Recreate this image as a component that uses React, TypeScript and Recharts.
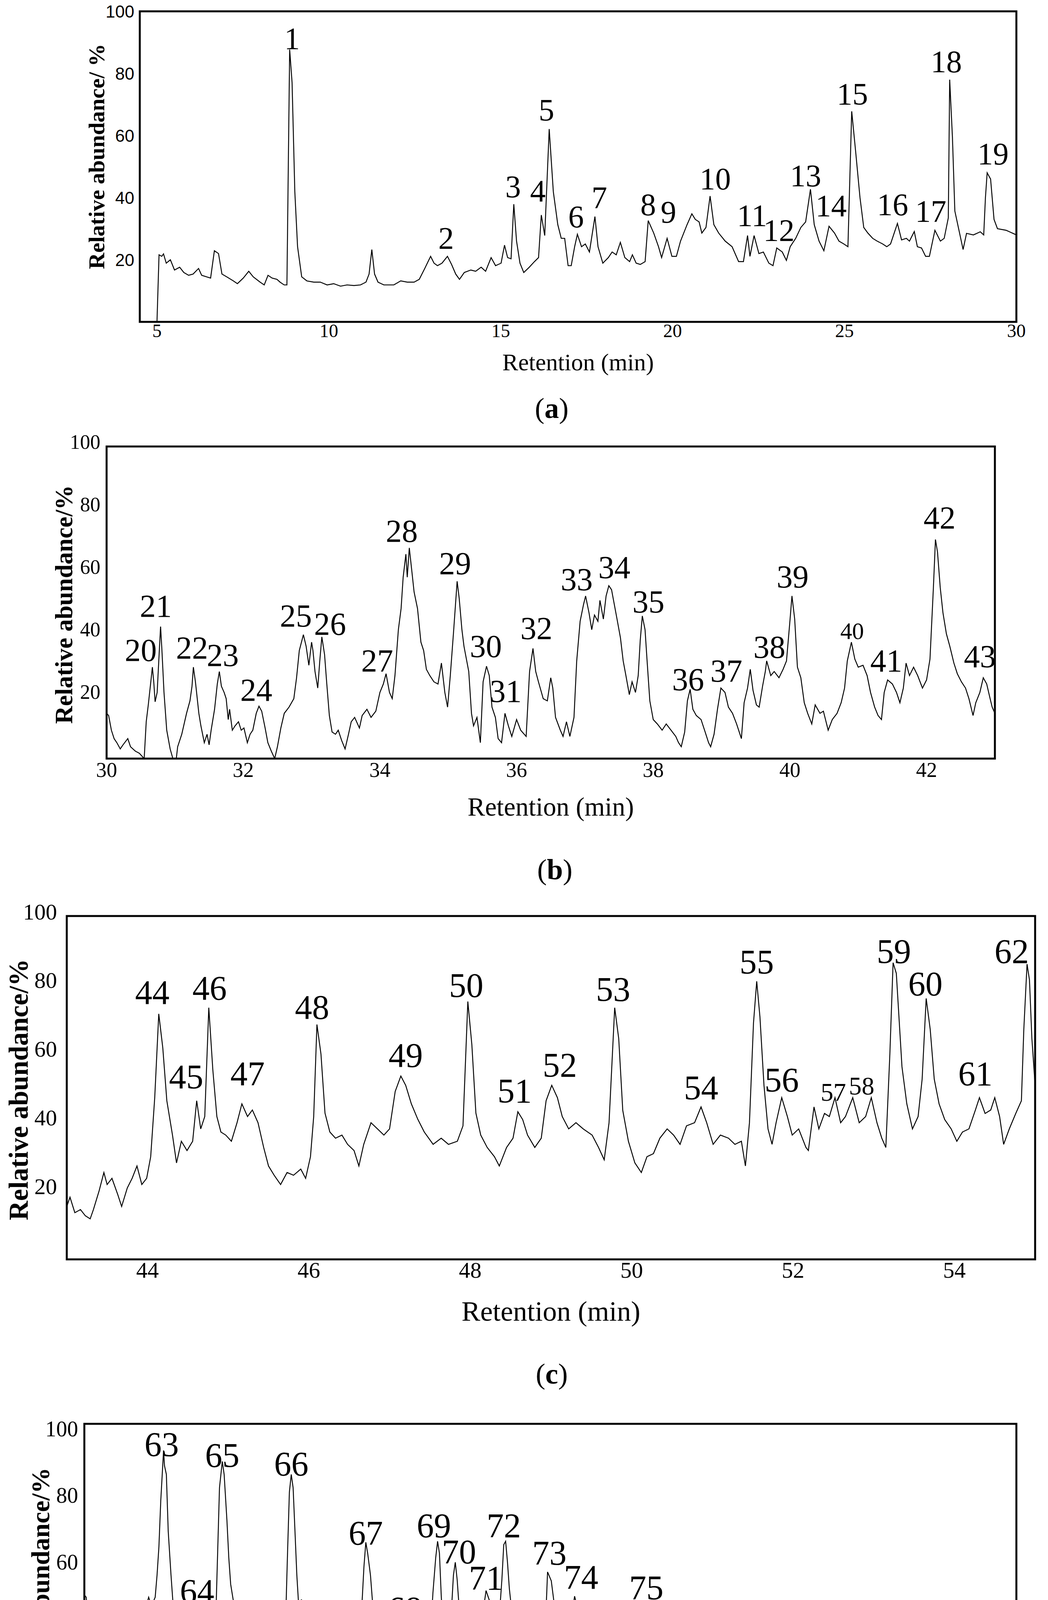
import React from 'react';
import { ComposedChart, Line, Scatter, XAxis, YAxis, ReferenceArea, Label } from 'recharts';

const SERIF = '"Liberation Serif", "Times New Roman", serif';
const SANS = '"Liberation Sans", Arial, sans-serif';

type Pt = [number, number];
type Peak = [string, number, number];

// retention time (min), relative abundance (%)
const traceA: Pt[] = [
  [5.0,0],[5.06,21.6],[5.14,21.1],[5.19,21.9],[5.27,18.9],[5.39,20.0],[5.51,16.7],[5.66,17.6],[5.78,15.9],[5.92,15.0],[6.05,15.4],[6.21,17.2],[6.3,15.0],[6.44,14.5],[6.56,14.1],[6.67,22.9],[6.79,22.0],[6.89,15.4],[7.03,14.5],[7.22,13.2],[7.34,12.3],[7.51,14.1],[7.67,16.3],[7.8,14.5],[8.0,12.8],[8.12,11.9],[8.23,15.0],[8.35,14.1],[8.49,13.7],[8.58,12.8],[8.7,11.9],[8.78,11.9],[8.86,87.7],[8.93,77.1],[9.01,41.9],[9.09,24.2],[9.21,14.5],[9.36,13.2],[9.56,12.8],[9.75,12.8],[9.95,11.9],[10.14,12.3],[10.34,11.5],[10.53,11.9],[10.73,11.7],[10.92,11.9],[11.08,12.8],[11.17,15.4],[11.25,23.3],[11.33,15.4],[11.43,12.8],[11.6,11.9],[11.89,11.9],[12.09,13.2],[12.28,12.8],[12.48,12.8],[12.63,13.7],[12.79,17.2],[12.96,21.1],[13.06,18.9],[13.16,18.1],[13.29,18.9],[13.45,21.1],[13.57,18.5],[13.69,15.4],[13.8,13.7],[13.94,15.9],[14.13,16.7],[14.27,16.3],[14.43,17.6],[14.56,16.3],[14.72,20.7],[14.85,18.1],[15.01,18.9],[15.11,24.7],[15.2,20.7],[15.3,20.3],[15.38,37.9],[15.46,26.0],[15.56,18.9],[15.67,15.9],[15.83,17.6],[15.98,19.4],[16.1,20.7],[16.18,34.4],[16.28,27.8],[16.41,62.1],[16.53,41.9],[16.66,31.3],[16.76,26.9],[16.86,26.9],[16.96,18.1],[17.05,18.1],[17.15,24.2],[17.23,28.2],[17.35,24.2],[17.46,25.1],[17.58,22.5],[17.74,33.9],[17.83,24.2],[17.97,18.9],[18.13,20.7],[18.24,22.5],[18.36,21.6],[18.48,25.6],[18.61,20.7],[18.75,19.4],[18.83,21.6],[18.94,18.9],[19.06,18.5],[19.2,19.4],[19.29,32.6],[19.45,28.6],[19.59,24.2],[19.68,20.7],[19.84,26.9],[19.98,21.1],[20.11,21.1],[20.23,26.0],[20.42,31.3],[20.56,34.8],[20.66,33.0],[20.77,32.2],[20.85,28.6],[20.97,30.4],[21.09,40.5],[21.2,31.3],[21.34,28.6],[21.53,26.0],[21.73,24.2],[21.92,19.4],[22.06,19.4],[22.18,27.8],[22.25,21.1],[22.37,27.8],[22.51,22.0],[22.64,22.5],[22.8,18.9],[22.92,18.1],[23.03,23.8],[23.19,22.5],[23.31,19.8],[23.42,24.2],[23.58,26.9],[23.73,30.4],[23.87,32.2],[24.01,42.7],[24.12,31.3],[24.26,26.0],[24.4,22.9],[24.55,30.8],[24.71,28.6],[24.84,26.0],[24.98,25.1],[25.1,24.2],[25.21,67.8],[25.33,54.2],[25.45,40.1],[25.56,30.4],[25.68,28.6],[25.82,26.9],[25.95,26.0],[26.11,25.1],[26.23,24.2],[26.34,25.1],[26.54,31.7],[26.66,26.4],[26.8,26.9],[26.89,26.0],[27.03,29.1],[27.12,24.2],[27.24,23.8],[27.36,21.1],[27.47,21.1],[27.63,29.5],[27.79,26.0],[27.9,26.9],[28.02,33.5],[28.06,78.0],[28.14,59.5],[28.21,35.7],[28.33,29.5],[28.45,23.3],[28.55,28.5],[28.75,28.0],[28.95,29.0],[29.05,28.0],[29.1,40.0],[29.15,48.0],[29.25,46.0],[29.35,33.0],[29.45,30.0],[29.7,29.5],[30.0,28.0],
];

const traceB: Pt[] = [
  [30.0,14.5],[30.03,13.8],[30.07,9.1],[30.11,6.4],[30.15,5.1],[30.2,3.1],[30.24,4.4],[30.31,6.4],[30.35,3.8],[30.42,2.4],[30.48,1.7],[30.55,0],[30.58,11.8],[30.61,17.2],[30.65,25.2],[30.67,29.3],[30.69,24.6],[30.71,18.2],[30.74,21.2],[30.77,34.0],[30.79,42.3],[30.81,34.6],[30.84,21.2],[30.88,9.1],[30.93,3.1],[30.97,0],[31.02,0],[31.04,3.8],[31.1,7.8],[31.17,14.5],[31.22,18.5],[31.25,23.2],[31.27,29.3],[31.3,24.6],[31.35,14.5],[31.38,10.5],[31.43,5.1],[31.47,7.8],[31.5,4.4],[31.53,9.1],[31.58,15.8],[31.62,23.9],[31.65,27.9],[31.68,23.2],[31.72,21.2],[31.75,19.2],[31.78,12.5],[31.8,15.8],[31.84,9.1],[31.88,10.5],[31.93,11.8],[31.97,9.1],[32.01,9.8],[32.06,5.1],[32.1,7.8],[32.14,9.1],[32.19,14.5],[32.23,16.8],[32.27,15.2],[32.32,9.8],[32.36,5.1],[32.41,2.4],[32.46,0],[32.5,3.8],[32.55,9.8],[32.6,14.5],[32.67,16.5],[32.74,19.2],[32.78,25.9],[32.82,34.6],[32.88,39.7],[32.92,36.0],[32.96,29.9],[33.0,37.3],[33.02,34.6],[33.05,27.9],[33.09,22.6],[33.12,31.3],[33.15,39.0],[33.19,33.3],[33.22,24.6],[33.26,13.8],[33.3,8.5],[33.35,7.8],[33.39,9.1],[33.44,5.8],[33.49,3.1],[33.54,7.8],[33.58,11.8],[33.63,13.2],[33.7,9.8],[33.74,13.8],[33.81,15.8],[33.87,13.2],[33.94,15.2],[34.0,21.2],[34.05,23.9],[34.09,27.2],[34.14,21.2],[34.18,19.2],[34.22,26.6],[34.27,41.3],[34.31,48.1],[34.34,58.1],[34.38,65.5],[34.4,58.1],[34.43,67.5],[34.46,61.5],[34.5,53.4],[34.55,48.1],[34.6,37.3],[34.64,34.6],[34.68,28.6],[34.73,26.6],[34.79,24.6],[34.85,23.9],[34.9,30.6],[34.95,21.2],[34.99,16.5],[35.03,26.6],[35.08,41.3],[35.13,56.8],[35.16,51.4],[35.2,41.3],[35.23,36.0],[35.3,27.9],[35.34,14.5],[35.37,10.5],[35.42,13.2],[35.47,5.1],[35.51,24.6],[35.56,29.6],[35.6,26.6],[35.64,16.5],[35.69,13.2],[35.73,6.4],[35.78,5.1],[35.83,14.5],[35.88,10.5],[35.93,7.1],[36.0,12.5],[36.06,9.1],[36.14,7.1],[36.19,27.9],[36.24,35.3],[36.28,27.9],[36.32,24.6],[36.39,19.2],[36.45,18.5],[36.5,25.9],[36.53,22.6],[36.57,13.2],[36.64,9.1],[36.68,7.1],[36.73,11.8],[36.78,7.1],[36.84,13.2],[36.88,31.3],[36.93,44.0],[36.98,49.4],[37.01,52.1],[37.06,46.7],[37.1,41.3],[37.14,46.0],[37.19,44.0],[37.22,50.7],[37.27,44.7],[37.31,52.1],[37.35,55.4],[37.39,54.1],[37.43,49.4],[37.47,44.7],[37.52,38.7],[37.56,31.3],[37.6,26.6],[37.65,20.5],[37.69,24.6],[37.74,21.2],[37.78,26.6],[37.81,38.0],[37.84,45.7],[37.88,41.3],[37.91,31.3],[37.95,18.5],[38.0,12.5],[38.06,11.1],[38.13,9.1],[38.19,11.1],[38.26,9.1],[38.33,7.1],[38.37,5.1],[38.41,3.8],[38.46,8.5],[38.5,18.5],[38.54,22.2],[38.58,15.8],[38.63,13.8],[38.7,12.5],[38.76,8.5],[38.81,5.1],[38.84,3.8],[38.89,7.8],[38.94,15.8],[38.99,22.6],[39.05,21.2],[39.1,16.5],[39.16,14.5],[39.22,11.1],[39.29,6.4],[39.33,17.9],[39.38,22.6],[39.42,28.6],[39.46,21.9],[39.51,17.2],[39.55,16.5],[39.6,23.2],[39.64,27.9],[39.66,31.3],[39.72,26.6],[39.77,27.9],[39.84,25.9],[39.9,28.6],[39.95,31.3],[40.0,44.0],[40.03,52.1],[40.07,44.7],[40.11,29.3],[40.16,25.9],[40.21,17.9],[40.26,14.5],[40.32,11.1],[40.37,17.2],[40.44,14.5],[40.49,15.2],[40.56,9.1],[40.62,12.5],[40.69,14.5],[40.75,17.9],[40.8,22.6],[40.84,31.3],[40.9,37.3],[40.95,31.9],[41.0,29.3],[41.07,29.9],[41.13,26.6],[41.18,21.2],[41.24,16.5],[41.29,13.8],[41.34,12.5],[41.38,21.2],[41.43,25.2],[41.5,23.9],[41.56,21.2],[41.61,17.9],[41.66,22.6],[41.7,30.6],[41.75,26.6],[41.81,29.3],[41.87,26.6],[41.94,22.6],[42.0,25.2],[42.05,31.9],[42.1,54.8],[42.13,70.2],[42.16,66.2],[42.2,54.8],[42.24,46.7],[42.29,40.0],[42.34,36.0],[42.4,30.6],[42.45,27.2],[42.51,24.6],[42.57,22.6],[42.62,19.2],[42.68,13.8],[42.72,17.9],[42.78,21.2],[42.83,25.9],[42.88,23.9],[42.93,19.2],[42.96,16.5],[43.0,14.5],
];

const traceC: Pt[] = [
  [43.0,15.4],[43.04,18.1],[43.1,13.6],[43.17,14.5],[43.23,12.7],[43.29,11.8],[43.33,14.5],[43.4,19.9],[43.46,25.3],[43.5,21.8],[43.56,23.6],[43.63,19.0],[43.68,15.4],[43.75,20.8],[43.81,23.6],[43.87,27.2],[43.93,21.8],[43.99,23.6],[44.04,29.9],[44.09,47.1],[44.14,71.5],[44.19,61.6],[44.24,46.2],[44.31,36.2],[44.36,28.1],[44.42,34.4],[44.49,31.7],[44.56,34.4],[44.61,46.2],[44.66,38.0],[44.71,41.6],[44.76,73.3],[44.81,55.2],[44.86,41.6],[44.91,37.1],[44.97,36.2],[45.04,34.4],[45.11,39.8],[45.17,45.3],[45.24,41.6],[45.3,43.5],[45.37,39.8],[45.44,32.6],[45.5,27.2],[45.57,24.5],[45.65,21.8],[45.73,25.3],[45.81,24.5],[45.9,26.3],[45.96,23.6],[46.02,29.9],[46.06,41.6],[46.1,68.4],[46.15,59.8],[46.2,42.6],[46.26,37.1],[46.33,35.3],[46.41,36.2],[46.48,33.5],[46.56,31.7],[46.62,27.2],[46.68,33.5],[46.77,39.8],[46.85,38.0],[46.93,36.2],[47.0,38.0],[47.07,48.9],[47.14,53.4],[47.2,50.7],[47.27,45.3],[47.35,40.8],[47.43,37.1],[47.54,33.5],[47.64,35.3],[47.73,33.5],[47.84,34.4],[47.91,38.9],[47.97,75.1],[48.02,62.5],[48.07,42.6],[48.13,36.2],[48.21,32.6],[48.3,29.9],[48.36,27.2],[48.45,32.6],[48.53,35.3],[48.59,43.0],[48.65,40.7],[48.71,36.2],[48.8,32.6],[48.88,35.3],[48.94,46.2],[49.01,50.7],[49.08,47.1],[49.14,41.6],[49.22,38.0],[49.31,39.8],[49.4,38.0],[49.51,36.2],[49.59,32.6],[49.66,29.0],[49.72,39.8],[49.79,73.3],[49.84,64.3],[49.89,43.4],[49.96,34.4],[50.04,28.1],[50.12,25.3],[50.19,29.9],[50.27,30.8],[50.35,35.3],[50.44,38.0],[50.52,36.2],[50.6,33.5],[50.68,38.9],[50.78,39.8],[50.86,44.4],[50.93,39.8],[51.01,33.5],[51.1,36.2],[51.2,35.3],[51.28,33.5],[51.36,34.4],[51.41,27.2],[51.46,39.8],[51.51,68.8],[51.55,81.0],[51.59,70.6],[51.64,50.7],[51.69,38.0],[51.74,33.5],[51.79,39.8],[51.86,47.1],[51.93,41.6],[51.99,36.2],[52.07,38.0],[52.16,32.6],[52.19,31.7],[52.26,44.4],[52.32,38.0],[52.39,42.5],[52.45,41.6],[52.52,47.1],[52.59,39.8],[52.65,41.6],[52.74,47.1],[52.82,39.8],[52.9,41.6],[52.97,47.1],[53.04,39.8],[53.1,35.3],[53.15,32.6],[53.2,59.8],[53.24,86.4],[53.28,83.3],[53.35,56.1],[53.41,45.3],[53.48,38.0],[53.55,41.6],[53.6,52.5],[53.65,76.0],[53.7,67.0],[53.75,52.5],[53.81,45.3],[53.88,40.7],[53.96,38.0],[54.03,34.4],[54.1,37.1],[54.18,38.0],[54.26,43.5],[54.31,47.1],[54.38,42.5],[54.45,43.5],[54.5,47.1],[54.56,41.6],[54.61,33.5],[54.68,38.0],[54.76,42.5],[54.83,46.2],[54.86,67.0],[54.9,86.0],[54.93,81.4],[54.96,64.3],[55.0,50.7],
];

const traceD: Pt[] = [
  [55.0,48.6],[55.02,47.9],[55.04,41.3],[55.06,43.9],[55.08,40.0],[55.1,37.4],[55.13,43.3],[55.16,38.7],[55.19,38.0],[55.23,37.4],[55.27,32.1],[55.3,36.0],[55.34,34.7],[55.38,35.4],[55.43,38.0],[55.48,37.4],[55.52,42.0],[55.56,37.4],[55.6,34.1],[55.61,43.3],[55.65,43.9],[55.69,47.9],[55.72,45.3],[55.76,47.9],[55.78,54.5],[55.8,63.0],[55.82,76.9],[55.85,92.0],[55.86,87.4],[55.88,84.8],[55.9,67.7],[55.93,54.5],[55.95,46.6],[55.98,41.3],[56.02,37.4],[56.06,34.7],[56.09,32.7],[56.11,41.3],[56.15,40.0],[56.19,36.0],[56.23,41.3],[56.26,43.9],[56.29,41.3],[56.33,38.0],[56.36,30.1],[56.38,32.7],[56.41,41.3],[56.43,61.1],[56.45,80.8],[56.48,88.7],[56.5,84.8],[56.53,70.9],[56.55,59.7],[56.57,51.8],[56.6,46.6],[56.63,43.3],[56.66,45.6],[56.7,41.3],[56.74,36.0],[56.78,33.4],[56.82,31.4],[56.86,34.7],[56.9,32.1],[56.95,32.7],[56.98,37.4],[57.02,34.7],[57.05,30.8],[57.09,28.1],[57.13,30.8],[57.16,41.3],[57.18,61.1],[57.2,79.5],[57.22,84.8],[57.24,80.8],[57.26,67.7],[57.28,54.5],[57.3,45.3],[57.33,47.2],[57.35,39.3],[57.38,40.0],[57.43,35.4],[57.48,30.8],[57.53,29.4],[57.57,28.1],[57.62,32.1],[57.67,29.4],[57.72,34.7],[57.77,35.4],[57.82,37.4],[57.86,36.0],[57.91,38.7],[57.94,33.4],[57.97,41.3],[58.0,57.1],[58.02,64.4],[58.04,61.1],[58.07,54.5],[58.1,43.5],[58.12,34.7],[58.15,32.1],[58.18,31.4],[58.22,36.0],[58.25,31.4],[58.28,32.1],[58.31,28.1],[58.34,26.2],[58.38,25.5],[58.41,24.2],[58.44,29.4],[58.47,32.7],[58.5,37.4],[58.53,38.0],[58.57,38.7],[58.6,36.0],[58.64,34.7],[58.68,31.4],[58.71,34.7],[58.74,49.2],[58.77,59.8],[58.79,64.7],[58.81,61.1],[58.83,47.9],[58.86,34.7],[58.89,29.4],[58.92,30.8],[58.94,44.6],[58.96,54.5],[58.98,58.4],[59.0,53.2],[59.03,41.3],[59.05,34.1],[59.08,30.8],[59.11,28.8],[59.16,30.1],[59.21,32.1],[59.25,38.7],[59.28,43.9],[59.31,49.9],[59.35,46.6],[59.38,44.6],[59.41,42.0],[59.43,38.0],[59.45,41.3],[59.48,53.2],[59.5,63.7],[59.52,64.7],[59.54,58.4],[59.56,50.5],[59.59,42.6],[59.62,38.0],[59.66,34.1],[59.69,32.1],[59.74,30.8],[59.79,31.4],[59.83,30.1],[59.88,30.8],[59.91,28.8],[59.95,41.3],[59.97,55.5],[60.01,52.8],[60.06,41.8],[60.1,33.6],[60.15,30.0],[60.2,36.4],[60.26,48.2],[60.3,43.7],[60.34,36.4],[60.4,32.7],[60.47,34.5],[60.54,30.9],[60.61,29.1],[60.67,25.4],[60.74,27.3],[60.82,28.2],[60.87,39.1],[60.94,41.8],[61.0,44.6],[61.05,40.9],[61.1,34.5],[61.15,26.3],[61.22,23.6],[61.3,24.5],[61.37,20.9],[61.44,20.0],[61.51,23.6],[61.58,19.1],[61.65,15.4],[61.73,14.5],[61.8,12.7],[61.87,14.5],[61.96,19.1],[62.05,16.3],[62.16,14.5],[62.26,13.6],[62.37,11.8],[62.48,9.0],[62.56,7.2],[62.66,12.7],[62.73,16.3],[62.78,14.5],[62.85,10.8],[62.94,8.1],[63.05,6.3],[63.16,4.0],[63.27,2.6],[63.37,7.2],[63.45,4.5],[63.52,0.4],[63.59,2.6],[63.66,5.4],[63.73,1.7],[63.8,0.4],[63.91,1.3],[64.0,4.0],[64.05,0],
];

// peak number, retention time, abundance at the label baseline
const peaksA: Peak[] = [
  ['1',8.93,87.8],['2',13.41,23.5],['3',15.36,40.1],['4',16.08,38.8],['5',16.33,64.8],['6',17.19,30.4],['7',17.87,36.6],['8',19.29,34.4],['9',19.88,32.0],['10',21.24,42.7],['11',22.31,30.8],['12',23.09,26.0],['13',23.87,43.6],['14',24.61,33.9],['15',25.23,70.0],['16',26.4,34.4],['17',27.51,32.2],['18',27.96,80.4],['19',29.32,50.7],
];
const peaksB: Peak[] = [
  ['20',30.5,31.3],['21',30.72,45.4],['22',31.25,32.0],['23',31.7,29.6],['24',32.19,18.5],['25',32.77,42.3],['26',33.27,39.7],['27',33.96,27.9],['28',34.32,69.5],['29',35.1,59.1],['30',35.55,32.6],['31',35.84,18.2],['32',36.29,38.3],['33',36.88,54.0],['34',37.43,57.8],['35',37.93,46.8],['36',38.51,21.9],['37',39.07,24.6],['38',39.7,32.3],['39',40.04,54.8],['40',40.91,38.3],['41',41.41,27.9],['42',42.19,73.7],['43',42.78,29.3],
];
const peaksC: Peak[] = [
  ['44',44.06,74.4],['45',44.48,49.8],['46',44.77,75.6],['47',45.24,50.7],['48',46.04,70.1],['49',47.2,56.1],['50',47.95,76.5],['51',48.55,45.7],['52',49.11,53.2],['53',49.77,75.3],['54',50.86,46.6],['55',51.55,83.3],['56',51.86,48.9],['57',52.5,46.2],['58',52.85,48.0],['59',53.25,86.4],['60',53.64,76.9],['61',54.26,50.7],['62',54.71,86.4],
];
const peaksD: Peak[] = [
  ['63',55.83,90.4],['64',56.21,46.2],['65',56.48,87.1],['66',57.22,84.5],['67',58.02,63.7],['68',58.44,41.0],['69',58.75,66.0],['70',59.02,58.1],['71',59.31,50.2],['72',59.5,66.0],['73',59.99,57.8],['74',60.33,50.5],['75',61.03,47.3],
];

const xTicksA = [5, 10, 15, 20, 25, 30];
const xTicksB = [30, 32, 34, 36, 38, 40, 42];
const xTicksC = [44, 46, 48, 50, 52, 54];
const xTicksD = [56, 58, 60, 62, 64];
const yTicks = [20, 40, 60, 80, 100];

const xTitle = 'Retention (min)';
const yTitleA = 'Relative abundance/ %';
const yTitle = 'Relative abundance/%';

// these labels are set in a smaller type in the figure
const smallPeaks = new Set(['40', '57', '58']);

const rows = (pts: Pt[]) => pts.map(([t, v]) => ({ t, v }));
const peakRows = (pks: Peak[]) => pks.map(([name, t, v]) => ({ name, t, v }));

type Layout = {
  left: number; right: number; top: number; bottom: number;
  yw: number; xh: number;
  yTickFont: string; yTickSize: number; yTickMargin: number; yTickDy: number;
  xTickSize: number; xTickMargin: number;
  peakSize: number; yTitleSize: number; yTitleDy: number;
  xTitleSize: number; xTitleDx: number;
  capX: number; capY: number;
};

const MT = 44;
const MR = 44;

function Panel(props: {
  trace: Pt[]; peaks: Peak[]; domain: [number, number]; ticks: number[];
  yLabel: string; caption: string; lay: Layout;
}) {
  const { trace, peaks, domain, ticks, yLabel, caption, lay } = props;
  const width = lay.right - lay.left + lay.yw + MR;
  const height = MT + (lay.bottom - lay.top) + lay.xh;

  const peakShape = (p: any) => {
    const name = p.payload.name;
    const size = smallPeaks.has(name) ? lay.peakSize * 0.74 : lay.peakSize;
    return (
      <text x={p.cx} y={p.cy} textAnchor="middle" fontFamily={SERIF} fontSize={size} fill="#000">
        {name}
      </text>
    );
  };

  return (
    <>
      <div style={{ position: 'absolute', left: lay.left - lay.yw, top: lay.top - MT }}>
        <ComposedChart width={width} height={height} margin={{ top: MT, right: MR, bottom: 0, left: 0 }}>
          <XAxis
            type="number"
            dataKey="t"
            domain={domain}
            ticks={ticks}
            interval={0}
            allowDataOverflow
            axisLine={false}
            tickLine={false}
            tickSize={0}
            tickMargin={lay.xTickMargin}
            height={lay.xh}
            tick={{ fontSize: lay.xTickSize, fontFamily: SERIF, fill: '#000' }}
          >
            <Label
              value={xTitle}
              position="center"
              dx={lay.xTitleDx}
              fontSize={lay.xTitleSize}
              fontFamily={SERIF}
              fill="#000"
            />
          </XAxis>
          <YAxis
            type="number"
            domain={[0, 100]}
            ticks={yTicks}
            interval={0}
            allowDataOverflow
            axisLine={false}
            tickLine={false}
            tickSize={0}
            tickMargin={lay.yTickMargin}
            width={lay.yw}
            tick={{ fontSize: lay.yTickSize, fontFamily: lay.yTickFont, fill: '#000', dy: lay.yTickDy }}
          >
            <Label
              value={yLabel}
              position="center"
              angle={-90}
              dy={lay.yTitleDy}
              fontSize={lay.yTitleSize}
              fontFamily={SERIF}
              fontWeight="bold"
              fill="#000"
            />
          </YAxis>
          <ReferenceArea
            x1={domain[0]}
            x2={domain[1]}
            y1={0}
            y2={100}
            fill="none"
            stroke="#000"
            strokeWidth={5}
            fillOpacity={0}
          />
          <Line
            data={rows(trace)}
            dataKey="v"
            type="linear"
            stroke="#000"
            strokeWidth={2.4}
            dot={false}
            isAnimationActive={false}
          />
          <Scatter data={peakRows(peaks)} dataKey="v" shape={peakShape} isAnimationActive={false} />
        </ComposedChart>
      </div>
      <div
        style={{
          position: 'absolute',
          left: lay.capX - 150,
          top: lay.capY - 44,
          width: 300,
          textAlign: 'center',
          fontFamily: SERIF,
          fontSize: 74,
          lineHeight: 1,
          color: '#000',
        }}
      >
        (<b>{caption}</b>)
      </div>
    </>
  );
}

const layA: Layout = {
  left: 358, right: 2603, top: 29, bottom: 824, yw: 224, xh: 204,
  yTickFont: SANS, yTickSize: 44, yTickMargin: 14, yTickDy: 0,
  xTickSize: 48, xTickMargin: 5, peakSize: 80, yTitleSize: 58, yTitleDy: -26,
  xTitleSize: 61, xTitleDx: 0, capX: 1413, capY: 1052,
};
const layB: Layout = {
  left: 273, right: 2548, top: 1143, bottom: 1942, yw: 220, xh: 244,
  yTickFont: SERIF, yTickSize: 52, yTickMargin: 16, yTickDy: -12,
  xTickSize: 54, xTickMargin: 9, peakSize: 82, yTitleSize: 63, yTitleDy: 5,
  xTitleSize: 67, xTitleDx: 0, capX: 1421, capY: 2233,
};
const layC: Layout = {
  left: 171, right: 2651, top: 2345, bottom: 3224, yw: 248, xh: 262,
  yTickFont: SERIF, yTickSize: 58, yTickMargin: 25, yTickDy: -12,
  xTickSize: 58, xTickMargin: 6, peakSize: 88, yTitleSize: 69, yTitleDy: 5,
  xTitleSize: 72, xTitleDx: 0, capX: 1413, capY: 3524,
};
const layD: Layout = {
  left: 216, right: 2603, top: 3645, bottom: 4497, yw: 226, xh: 210,
  yTickFont: SERIF, yTickSize: 56, yTickMargin: 16, yTickDy: 12,
  xTickSize: 54, xTickMargin: 6, peakSize: 88, yTitleSize: 66, yTitleDy: 6,
  xTitleSize: 71, xTitleDx: -40, capX: 1413, capY: 4707,
};

export default function App() {
  return (
    <div style={{ position: 'absolute', left: 0, top: 0, width: 2684, height: 4768, background: '#fff', overflow: 'hidden' }}>
      <Panel trace={traceA} peaks={peaksA} domain={[4.5, 30]} ticks={xTicksA} yLabel={yTitleA} caption="a" lay={layA} />
      <Panel trace={traceB} peaks={peaksB} domain={[30, 43]} ticks={xTicksB} yLabel={yTitle} caption="b" lay={layB} />
      <Panel trace={traceC} peaks={peaksC} domain={[43, 55]} ticks={xTicksC} yLabel={yTitle} caption="c" lay={layC} />
      <Panel trace={traceD} peaks={peaksD} domain={[55, 65]} ticks={xTicksD} yLabel={yTitle} caption="d" lay={layD} />
    </div>
  );
}
